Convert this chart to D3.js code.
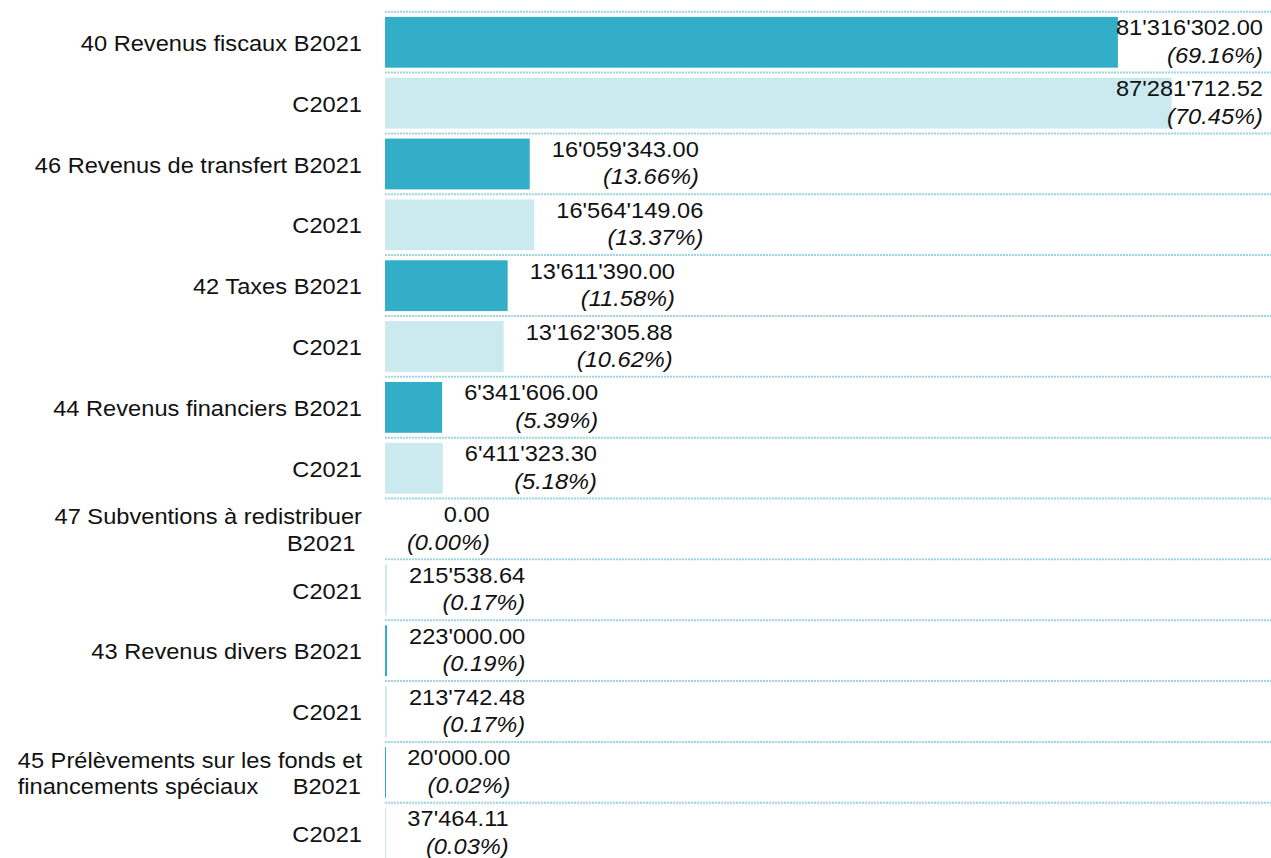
<!DOCTYPE html>
<html>
<head>
<meta charset="utf-8">
<script src="https://cdn.jsdelivr.net/npm/d3@7"></script>
<style>
  body { margin: 0; background: #fff; }
  text { font-family: "Liberation Sans", Arial, sans-serif; font-size: 22px; fill: #111; }
</style>
</head>
<body>
<div id="chart"></div>
<script>
// values (B = budget, C = comptes)
const categories = ["40 Revenus fiscaux", "46 Revenus de transfert", "42 Taxes", "44 Revenus financiers",
  "47 Subventions à redistribuer", "43 Revenus divers", "45 Prélèvements sur les fonds et financements spéciaux"];
const budget2021 = [81316302.00, 16059343.00, 13611390.00, 6341606.00, 0.00, 223000.00, 20000.00];
const compte2021 = [87281712.52, 16564149.06, 13162305.88, 6411323.30, 215538.64, 213742.48, 37464.11];
const seriesNames = ["B2021", "C2021"];
// row labels as shown on the axis ("|" = left part / right part of a line)
const rowLabels = [
  ["40 Revenus fiscaux B2021"], ["C2021"],
  ["46 Revenus de transfert B2021"], ["C2021"],
  ["42 Taxes B2021"], ["C2021"],
  ["44 Revenus financiers B2021"], ["C2021"],
  ["47 Subventions à redistribuer", "B2021 "], ["C2021"],
  ["43 Revenus divers B2021"], ["C2021"],
  ["45 Prélèvements sur les fonds et", "financements spéciaux|B2021"], ["C2021"]
];

let width = 1271, height = 858;
let colors = { "B2021": "#33aec8", "C2021": "#cbeaf0" };
let sx = 1.075; // the reference font is a bit wider than Liberation Sans

let totals = { "B2021": d3.sum(budget2021), "C2021": d3.sum(compte2021) };
let rows = [];
categories.forEach((c, i) => {
  rows.push({ cat: c, serie: seriesNames[0], value: budget2021[i] });
  rows.push({ cat: c, serie: seriesNames[1], value: compte2021[i] });
});
rows.forEach((d, i) => { d.idx = i; d.pct = d.value / totals[d.serie]; d.label = rowLabels[i]; });

let swiss = d3.formatLocale({ decimal: ".", thousands: "'", grouping: [3], currency: ["", ""] });
let fmtNum = swiss.format(",.2f");
let fmtPct = v => "(" + (v * 100).toFixed(2) + "%)";

let svg = d3.select("#chart").append("svg")
  .attr("width", width)
  .attr("height", height);

let x = d3.scaleLinear()
  .domain([0, 98.3e6])
  .range([385, width]);

let y = d3.scaleBand()
  .domain(rows.map(d => d.idx))
  .range([11.7, 11.7 + rows.length * 60.85]);

let bw = y.bandwidth();

// text placed with a horizontal stretch
function put(g, px, py, str, anchor) {
  let t = g.append("text")
    .attr("transform", "translate(" + px + "," + py + ") scale(" + sx + ",1)")
    .attr("text-anchor", anchor)
    .style("white-space", "pre")
    .text(str);
  return t;
}
function move(t, px, py) {
  t.attr("transform", "translate(" + px + "," + py + ") scale(" + sx + ",1)");
}

// dotted grid lines at the top of each row
svg.selectAll("line.grid")
  .data(rows)
  .enter()
  .append("line")
  .attr("class", "grid")
  .attr("x1", 385)
  .attr("x2", width)
  .attr("y1", d => y(d.idx))
  .attr("y2", d => y(d.idx))
  .style("stroke", "#9dd6e3")
  .style("stroke-width", 2)
  .style("stroke-dasharray", "2,1");

svg.selectAll("rect.bar")
  .data(rows)
  .enter()
  .append("rect")
  .attr("class", "bar")
  .attr("x", x(0))
  .attr("y", d => y(d.idx) + bw * 0.085)
  .attr("height", bw * 0.835)
  .attr("width", d => d.value > 0 ? Math.max(1, x(d.value) - x(0)) : 0)
  .style("fill", d => colors[d.serie]);

// axis labels on the left
let lab = svg.selectAll("g.rowlabel")
  .data(rows)
  .enter()
  .append("g")
  .attr("class", "rowlabel")
  .attr("transform", d => "translate(0," + (y(d.idx) + bw / 2 + 0.8) + ")");

lab.each(function(d) {
  let g = d3.select(this);
  let n = d.label.length;
  let lh = 26.5;
  let top = -(n - 1) * lh / 2 + 8;
  let left = null;
  d.label.forEach((line, k) => {
    let by = top + k * lh;
    if (line.indexOf("|") >= 0) {
      let parts = line.split("|");
      put(g, left, by, parts[0], "start");
      put(g, 361, by, parts[1], "end");
    } else {
      let t = put(g, 362, by, line, "end");
      if (k === 0) left = 362 - t.node().getComputedTextLength() * sx;
    }
  });
});

// value labels: amount + share
let vl = svg.selectAll("g.value")
  .data(rows)
  .enter()
  .append("g")
  .attr("class", "value");

vl.each(function(d) {
  let g = d3.select(this);
  let cy = y(d.idx) + bw * 0.085 + bw * 0.835 / 2;
  let t1 = put(g, 0, cy - 7, fmtNum(d.value), "end");
  let t2 = put(g, 0, cy + 20.5, fmtPct(d.pct), "end").style("font-style", "italic");
  let w = sx * Math.max(t1.node().getComputedTextLength(), t2.node().getComputedTextLength());
  let right = Math.min(x(d.value) + 22 + w, 1263);
  move(t1, right, cy - 7);
  move(t2, right, cy + 20.5);
});
</script>
</body>
</html>
